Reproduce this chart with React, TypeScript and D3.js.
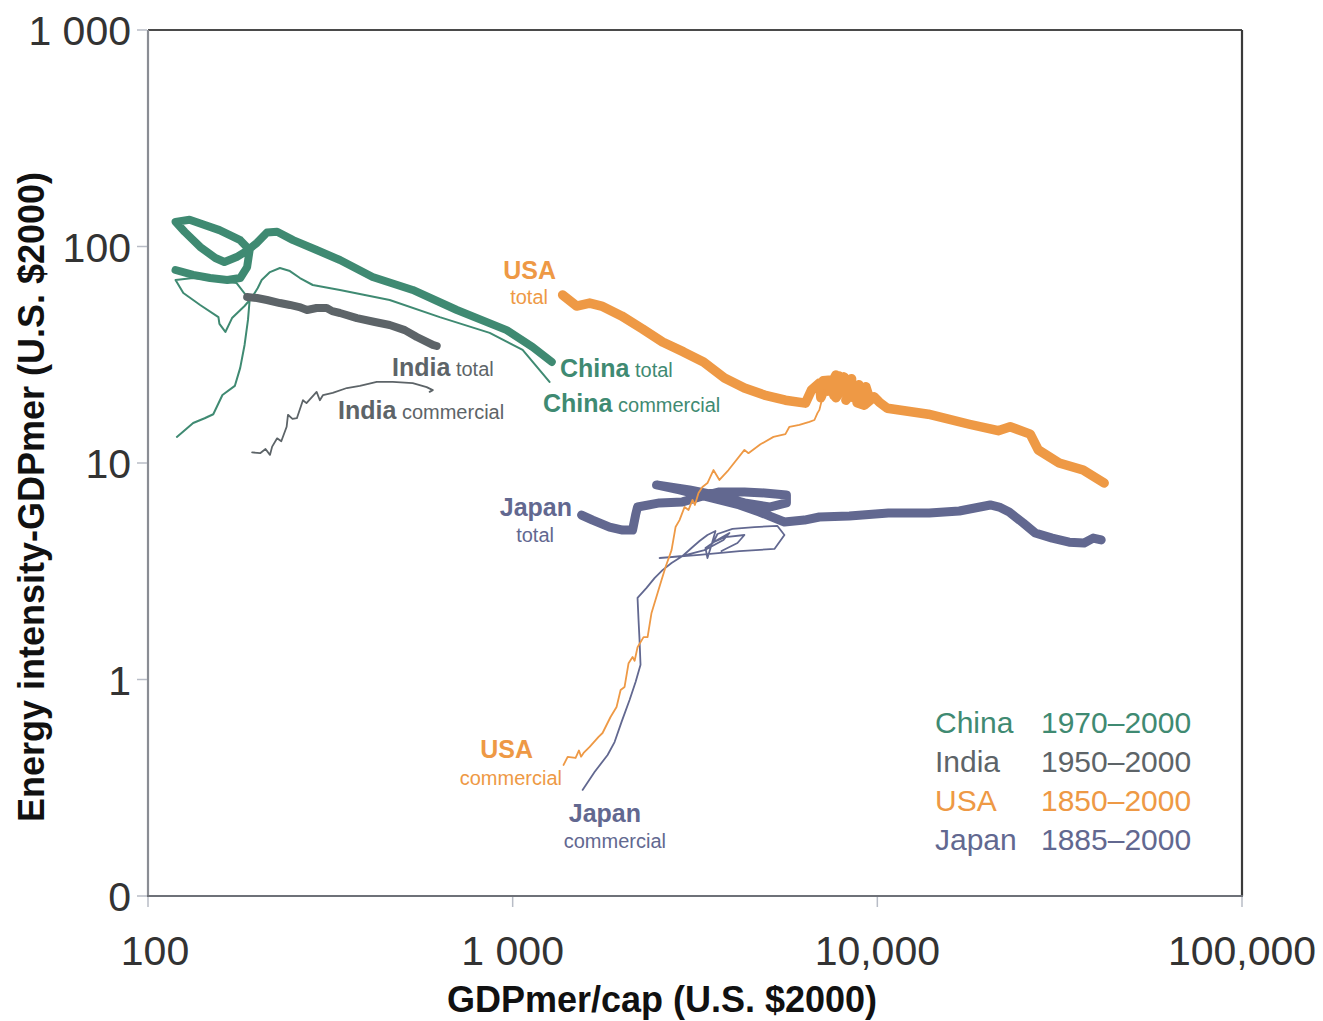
import * as d3 from "d3";

type Pt = [number, number];

// GDPmer/cap (US$2000), energy intensity
const chinaTotal: Pt[] = [
  [119, 77.9], [133, 73.9], [148, 71.5], [165, 70.0], [179, 71.5], [187, 80.4], [190, 96.3],
  [179, 107], [157, 119], [130, 133], [119, 130], [126, 117], [139, 99.5], [153, 88.5],
  [162, 84.8], [175, 89.4], [188, 96.3], [199, 104], [212, 116], [226, 117], [250, 107],
  [290, 96.3], [336, 86.6], [413, 72.3], [532, 63.0], [703, 50.9], [963, 41.1], [1135, 34.3], [1280, 29.3],
];

const chinaCommercial: Pt[] = [
  [120, 13.2], [133, 15.3], [143, 16.1], [151, 16.8], [160, 20.6], [173, 22.7], [179, 27.5],
  [184, 35.1], [188, 45.8], [190, 56.6], [175, 67.8], [133, 71.5], [119, 70.0], [125, 61.0],
  [139, 53.7], [156, 47.2], [157, 43.9], [163, 40.3], [170, 46.7], [184, 53.1], [193, 58.4],
  [200, 64.3], [205, 70.0], [216, 76.2], [230, 79.6], [245, 77.0], [261, 71.5], [283, 66.4],
  [336, 63.0], [460, 56.6], [631, 47.2], [865, 39.9], [1065, 33.3], [1262, 23.7],
];

const indiaTotal: Pt[] = [
  [187, 58.4], [199, 57.8], [212, 56.6], [230, 54.8], [245, 53.7], [260, 52.5], [273, 50.9],
  [290, 52.0], [309, 52.0], [320, 50.3], [336, 49.3], [374, 46.7], [419, 44.8], [460, 43.4],
  [506, 41.1], [546, 38.2], [604, 35.1], [619, 34.7],
];

const indiaCommercial: Pt[] = [
  [193, 11.2], [203, 11.1], [210, 11.6], [216, 10.9], [219, 11.9], [226, 13.0], [232, 12.6],
  [240, 14.7], [242, 16.7], [249, 16.0], [256, 16.1], [266, 19.5], [272, 18.9], [290, 21.3],
  [296, 19.5], [302, 20.6], [321, 21.1], [351, 22.2], [381, 22.7], [424, 23.7], [469, 23.7],
  [532, 23.4], [581, 22.4], [604, 21.7], [592, 21.3],
];

const usaTotal: Pt[] = [
  [1371, 59.7], [1497, 53.1], [1626, 54.8], [1753, 53.1], [1989, 47.8], [2271, 41.6],
  [2576, 36.2], [2941, 32.6], [3337, 29.3], [3809, 24.7], [4321, 22.2], [4902, 20.6],
  [5596, 19.5], [6349, 18.9], [6594, 21.7], [6936, 23.4], [7000, 20.0], [7202, 22.5],
  [7100, 24.0], [7482, 24.2], [7300, 21.5], [7700, 25.5], [7500, 22.5], [7868, 25.2],
  [7700, 20.0], [8000, 22.0], [8100, 25.0], [7600, 20.5], [8275, 23.7], [8400, 20.2],
  [8500, 24.5], [8300, 21.5], [8650, 22.9], [8200, 19.5], [8900, 23.0], [9043, 21.7],
  [8600, 20.0], [9300, 22.5], [9508, 20.0], [8800, 19.0], [9214, 18.5], [9800, 20.2],
  [10127, 19.1], [10651, 17.9], [13796, 16.8], [17870, 15.1], [21450, 14.1], [23140, 14.7],
  [26260, 13.6], [27620, 11.5], [31520, 10.0], [36670, 9.28], [41880, 8.08],
];

const usaCommercial: Pt[] = [
  [1379, 0.403], [1415, 0.439], [1488, 0.434], [1520, 0.47], [1540, 0.44], [1565, 0.458],
  [1626, 0.488], [1720, 0.543], [1764, 0.566], [1855, 0.671], [1927, 0.746], [1977, 0.894],
  [2027, 0.924], [2079, 1.19], [2132, 1.27], [2160, 1.22], [2200, 1.41], [2285, 1.57],
  [2344, 1.57], [2403, 2.03], [2497, 2.51], [2560, 2.88], [2626, 3.31], [2727, 3.96],
  [2797, 5.06], [2868, 5.45], [2960, 6.26], [3036, 6.07], [3113, 6.75], [3160, 6.4],
  [3233, 7.27], [3314, 7.75], [3421, 8.08], [3553, 9.28], [3690, 8.35], [3907, 9.28],
  [4321, 11.5], [4432, 11.1], [4781, 12.2], [5190, 13.2], [5596, 13.6], [5740, 14.7],
  [6113, 15.0], [6512, 15.5], [6722, 15.8], [6850, 17.0], [6936, 17.6], [7069, 20.0], [7159, 21.7],
];

const japanTotal: Pt[] = [
  [1545, 5.75], [1657, 5.45], [1844, 5.06], [2002, 4.9], [2132, 4.9], [2173, 5.75], [2200, 6.26],
  [2528, 6.54], [2923, 6.61], [3254, 6.97], [3690, 7.35], [4321, 7.35], [4902, 7.27],
  [5632, 7.12], [5632, 6.54], [5060, 6.26], [4321, 6.54], [3690, 7.04], [3054, 7.51],
  [2481, 7.92], [2868, 7.51], [3531, 6.89], [4188, 6.4], [4750, 5.94], [5562, 5.34],
  [6310, 5.45], [6936, 5.63], [8380, 5.69], [10720, 5.87], [13885, 5.87], [16780, 6.0],
  [20400, 6.4], [21590, 6.26], [22990, 5.94], [25120, 5.28], [27100, 4.75], [30170, 4.5],
  [33570, 4.31], [36900, 4.27], [39070, 4.5], [41100, 4.41],
];

const japanCommercial: Pt[] = [
  [1555, 0.309], [1677, 0.374], [1821, 0.448], [1903, 0.514], [1989, 0.637], [2092, 0.804],
  [2173, 0.974], [2242, 1.17], [2228, 1.52], [2214, 1.88], [2200, 2.38], [2329, 2.65],
  [2449, 2.94], [2576, 3.2], [2727, 3.45], [2923, 3.72], [3093, 4.05], [3254, 4.36],
  [3421, 4.65], [3599, 4.85], [3509, 4.18], [3421, 3.64], [3379, 4.05], [3599, 4.36],
  [3931, 4.75], [3786, 4.41], [3357, 3.96], [2923, 3.72], [2528, 3.64], [3254, 3.76],
  [4188, 3.92], [5222, 4.01], [5562, 4.65], [5321, 5.12], [4603, 5.06], [4006, 4.96],
  [3644, 4.7], [3553, 4.31], [3834, 4.55], [4321, 4.65], [4135, 4.27], [3738, 3.92],
];

const xTicks = [100, 1000, 10000, 100000];
const xTickLabels = ["100", "1 000", "10,000", "100,000"];
const yTicks = [0.1, 1, 10, 100, 1000];
const yTickLabels = ["0", "1", "10", "100", "1 000"];

const legendNames = ["China", "India", "USA", "Japan"];
const legendYears = ["1970–2000", "1950–2000", "1850–2000", "1885–2000"];

const GREEN = "#3f8a72";
const GRAY = "#5d6468";
const ORANGE = "#ee9945";
const SLATE = "#626890";
const legendColors = [GREEN, GRAY, ORANGE, SLATE];

const W = 1323;
const H = 1021;
const FONT = "'Liberation Sans', Arial, Helvetica, sans-serif";

export default function App() {
  const x = d3.scaleLog().domain([100, 100000]).range([148, 1242]);
  const y = d3.scaleLog().domain([0.1, 1000]).range([896, 30]);
  const line = d3.line<Pt>().x((d) => x(d[0])).y((d) => y(d[1]));

  const series = [
    { data: japanTotal, color: SLATE, w: 9 },
    { data: japanCommercial, color: SLATE, w: 1.8 },
    { data: usaTotal, color: ORANGE, w: 9.5 },
    { data: usaCommercial, color: ORANGE, w: 1.8 },
    { data: indiaCommercial, color: GRAY, w: 1.8 },
    { data: chinaCommercial, color: GREEN, w: 2 },
    { data: indiaTotal, color: GRAY, w: 8 },
    { data: chinaTotal, color: GREEN, w: 8 },
  ];

  // series labels: [bold name, small word, x, y, anchor, color]
  const labels: [string, string, number, number, string, string][] = [
    ["USA", "", 556, 279, "end", ORANGE],
    ["", "total", 548, 304, "end", ORANGE],
    ["India", " total", 392, 376, "start", GRAY],
    ["India", " commercial", 338, 419, "start", GRAY],
    ["China", " total", 560, 377, "start", GREEN],
    ["China", " commercial", 543, 412, "start", GREEN],
    ["Japan", "", 572, 516, "end", SLATE],
    ["", "total", 554, 542, "end", SLATE],
    ["USA", "", 533, 758, "end", ORANGE],
    ["", "commercial", 562, 785, "end", ORANGE],
    ["Japan", "", 641, 822, "end", SLATE],
    ["", "commercial", 666, 848, "end", SLATE],
  ];

  return (
    <svg
      width={W}
      height={H}
      style={{ position: "absolute", left: 0, top: 0, background: "#fff", fontFamily: FONT }}
    >
      {/* frame */}
      <line x1={148} x2={1242} y1={30} y2={30} stroke="#4a4a4a" strokeWidth={2.2} />
      <line x1={1242} x2={1242} y1={30} y2={896} stroke="#3a3a3a" strokeWidth={2.2} />
      <line x1={148} x2={148} y1={30} y2={897} stroke="#8a8d94" strokeWidth={2.2} />
      <line x1={147} x2={1243} y1={896} y2={896} stroke="#6e7178" strokeWidth={2.2} />

      {/* ticks */}
      {yTicks.map((t, i) => (
        <g key={"y" + i}>
          <line x1={137} x2={147} y1={y(t)} y2={y(t)} stroke="#b8bcc6" strokeWidth={1.5} />
          <text x={131} y={y(t) + 15} textAnchor="end" fontSize={41} fill="#333">
            {yTickLabels[i]}
          </text>
        </g>
      ))}
      {xTicks.map((t, i) => (
        <g key={"x" + i}>
          <line x1={x(t)} x2={x(t)} y1={897} y2={907} stroke="#b8bcc6" strokeWidth={1.5} />
          <text x={x(t) + (i === 0 ? 7 : 0)} y={965} textAnchor="middle" fontSize={41} fill="#333">
            {xTickLabels[i]}
          </text>
        </g>
      ))}

      {/* axis titles */}
      <text x={662} y={1012} textAnchor="middle" fontSize={36} fontWeight="bold" fill="#111">
        GDPmer/cap (U.S. $2000)
      </text>
      <text
        transform="translate(44,497) rotate(-90)"
        textAnchor="middle"
        fontSize={36}
        fontWeight="bold"
        fill="#111"
      >
        Energy intensity-GDPmer (U.S. $2000)
      </text>

      {/* series */}
      {series.map((s, i) => (
        <path
          key={i}
          d={line(s.data) ?? ""}
          fill="none"
          stroke={s.color}
          strokeWidth={s.w}
          strokeLinejoin="round"
          strokeLinecap="round"
        />
      ))}

      {/* series labels */}
      {labels.map(([b, r, lx, ly, anchor, c], i) => (
        <text key={"l" + i} x={lx} y={ly} textAnchor={anchor as any} fill={c}>
          {b && (
            <tspan fontWeight="bold" fontSize={25}>
              {b}
            </tspan>
          )}
          {r && <tspan fontSize={20}>{r}</tspan>}
        </text>
      ))}

      {/* legend */}
      {legendNames.map((n, i) => (
        <g key={"lg" + i} fill={legendColors[i]} fontSize={30}>
          <text x={935} y={733 + i * 39}>{n}</text>
          <text x={1041} y={733 + i * 39}>{legendYears[i]}</text>
        </g>
      ))}
    </svg>
  );
}
